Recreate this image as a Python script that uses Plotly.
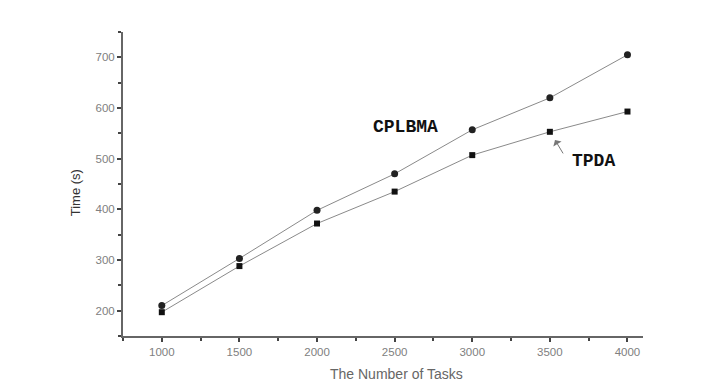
import plotly.graph_objects as go

tasks = [1000, 1500, 2000, 2500, 3000, 3500, 4000]
cplbma = [210, 303, 398, 470, 557, 620, 705]
tpda = [197, 288, 372, 435, 507, 553, 593]

fig = go.Figure()
fig.add_trace(go.Scatter(x=tasks, y=cplbma, mode="lines+markers", name="CPLBMA",
                         line=dict(color="#8a8a8a", width=1),
                         marker=dict(symbol="circle", size=7, color="#222222")))
fig.add_trace(go.Scatter(x=tasks, y=tpda, mode="lines+markers", name="TPDA",
                         line=dict(color="#8a8a8a", width=1),
                         marker=dict(symbol="square", size=6, color="#111111")))

axis_common = dict(showline=True, linecolor="#666666", linewidth=2, showgrid=False,
                   zeroline=False, ticks="outside", ticklen=4, tickwidth=2, tickcolor="#444444",
                   tickfont=dict(family="Arial, Liberation Sans", size=11.5, color="#808080"),
                   mirror=False)

fig.update_xaxes(range=[750, 4100], tickvals=tasks, ticktext=[str(t) for t in tasks],
                 minor=dict(tickvals=[750, 1250, 1750, 2250, 2750, 3250, 3750], ticks="outside",
                            ticklen=3, tickwidth=1.5, tickcolor="#444444"),
                 **axis_common)
fig.update_yaxes(range=[150, 750], tickvals=[200, 300, 400, 500, 600, 700],
                 minor=dict(tickvals=[150, 250, 350, 450, 550, 650, 750], ticks="outside",
                            ticklen=3, tickwidth=1.5, tickcolor="#444444"),
                 **axis_common)

# axis titles as annotations (placed like the original, slightly off-centre)
fig.add_annotation(xref="paper", yref="paper", x=0.525, y=-0.125, yanchor="middle",
                   text="The Number of Tasks", showarrow=False,
                   font=dict(family="Arial, Liberation Sans", size=14, color="#666666"))
fig.add_annotation(xref="paper", yref="paper", x=-0.092, y=0.47, xanchor="center",
                   text="Time (s)", textangle=-90, showarrow=False,
                   font=dict(family="Arial, Liberation Sans", size=13, color="#333333"))

fig.add_annotation(x=2567, y=562, text="<b>CPLBMA</b>", showarrow=False,
                   font=dict(family="Liberation Mono, Courier New, monospace", size=18, color="#111111"))
fig.add_annotation(x=3778, y=495, text="<b>TPDA</b>", showarrow=False,
                   font=dict(family="Liberation Mono, Courier New, monospace", size=18, color="#111111"))
# mouse-cursor glyph visible in the original
fig.add_annotation(x=3533, y=537, text="", showarrow=True, ax=9, ay=15,
                   arrowhead=1, arrowsize=1.6, arrowwidth=1, arrowcolor="#777777")

fig.update_layout(width=704, height=375, showlegend=False,
                  margin=dict(l=115, r=69, t=24, b=47),
                  plot_bgcolor="white", paper_bgcolor="white")

fig.write_html("out.html")
